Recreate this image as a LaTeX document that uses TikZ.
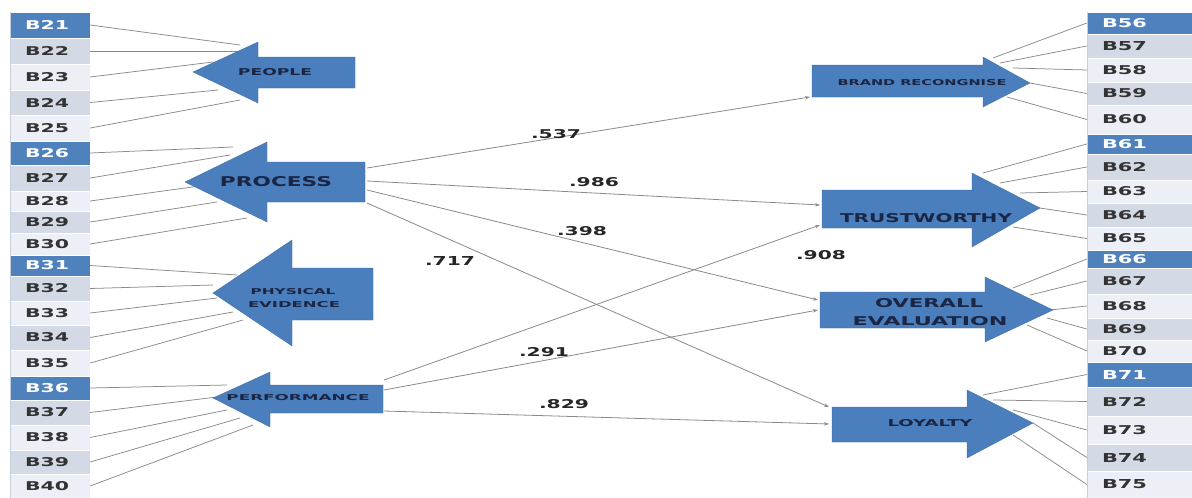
\documentclass[tikz,border=0pt]{standalone}
\usepackage{fontspec}
\setmainfont{DejaVu Sans}
\usepackage{graphicx}
\usetikzlibrary{arrows.meta}
\definecolor{hdr}{HTML}{4F81BD}
\definecolor{rowd}{HTML}{D3DAE6}
\definecolor{rowl}{HTML}{ECEFF5}
\definecolor{arr}{HTML}{4A7EBC}
\definecolor{navy}{HTML}{1B2544}
\definecolor{ln}{HTML}{8A8A8A}
\definecolor{tdark}{HTML}{333333}
\definecolor{tblborder}{HTML}{C5CEDC}
\newcommand{\fit}[3]{\resizebox{#1pt}{#2pt}{\bfseries #3}}
\begin{document}
\begin{tikzpicture}[x=1pt,y=-1pt,
  cell/.style={inner sep=0pt, draw=white, line width=0.4pt},
  feed/.style={draw=ln, line width=0.75pt},
  effect/.style={draw=ln, line width=0.8pt, -{Stealth[length=5pt,width=3.5pt]}},
  bigarrow/.style={fill=arr, draw=arr!85!black, line width=0.3pt},
  alab/.style={text=navy, inner sep=0pt},
  coef/.style={text=black!85, inner sep=0pt}]
\useasboundingbox (0,0) rectangle (1192,498);
\fill[white] (0,0) rectangle (1192,498);

% ---------- left table ----------
\foreach \n/\t/\b/\f/\tc in {21/12/38/hdr/white, 22/38/64/rowd/tdark, 23/64/90/rowl/tdark, 24/90/115/rowd/tdark, 25/115/141/rowl/tdark,
  26/141/165/hdr/white, 27/165/191/rowd/tdark, 28/191/211/rowl/tdark, 29/211/233/rowd/tdark, 30/233/255/rowl/tdark,
  31/255/276/hdr/white, 32/276/301/rowd/tdark, 33/301/325/rowl/tdark, 34/325/350/rowd/tdark, 35/350/376/rowl/tdark,
  36/376/400/hdr/white, 37/400/425/rowd/tdark, 38/425/450/rowl/tdark, 39/450/474/rowd/tdark, 40/474/498/rowl/tdark}
  {\node[cell, fill=\f, text=\tc, minimum width=80pt, minimum height={(\b-\t)*1pt}] (L\n) at (50,{(\t+\b)/2})
     {\makebox[70pt][l]{\hspace*{10pt}\fit{44}{9}{B\n}}};}
\draw[tblborder, line width=0.6pt] (10,12) -- (10,498);

% ---------- right table ----------
\foreach \n/\t/\b/\f/\tc in {56/12/34/hdr/white, 57/34/58/rowd/tdark, 58/58/82/rowl/tdark, 59/82/105/rowd/tdark, 60/105/134/rowl/tdark,
  61/134/154/hdr/white, 62/154/180/rowd/tdark, 63/180/203/rowl/tdark, 64/203/227/rowd/tdark, 65/227/250/rowl/tdark,
  66/250/268/hdr/white, 67/268/294/rowd/tdark, 68/294/318/rowl/tdark, 69/318/340/rowd/tdark, 70/340/362/rowl/tdark,
  71/362/387/hdr/white, 72/387/416/rowd/tdark, 73/416/444/rowl/tdark, 74/444/471/rowd/tdark, 75/471/498/rowl/tdark}
  {\node[cell, fill=\f, text=\tc, minimum width=105pt, minimum height={(\b-\t)*1pt}] (R\n) at (1139.5,{(\t+\b)/2})
     {\makebox[85pt][l]{\hspace*{5pt}\fit{45}{9}{B\n}}};}
\draw[tblborder, line width=0.6pt] (1087,12) -- (1087,498);

% ---------- indicator lines (left) ----------
\foreach \n/\x/\y in {21/240/45, 22/240/51, 23/213/62, 24/218/90, 25/240/100,
  26/233/147, 27/230/155, 28/207/185, 29/217/202, 30/247/218,
  31/237/275, 32/213/285, 33/217/298, 34/233/312, 35/243/320,
  36/227/385, 37/217/397, 38/227/410, 39/240/418, 40/253/425}
  {\coordinate (pL\n) at (\x,\y); \draw[feed] (L\n.east) -- (pL\n);}

% ---------- indicator lines (right) ----------
\foreach \n/\x/\y in {56/993/58, 57/1000/63, 58/1013/68, 59/1030/83, 60/1007/97,
  61/983/173, 62/1000/183, 63/1020/193, 64/1033/207, 65/1013/227,
  66/1013/288, 67/1030/295, 68/1050/310, 69/1047/318, 70/1027/325,
  71/983/395, 72/993/400, 73/1013/410, 74/1033/423, 75/1013/435}
  {\coordinate (pR\n) at (\x,\y); \draw[feed] (R\n.west) -- (pR\n);}

% ---------- big arrows ----------
\draw[bigarrow] (193,72) -- (258,42) -- (258,57) -- (355,57) -- (355,88) -- (258,88) -- (258,103) -- cycle;
\draw[bigarrow] (185,182) -- (267,142) -- (267,162) -- (365,162) -- (365,202) -- (267,202) -- (267,222) -- cycle;
\draw[bigarrow] (213,293) -- (292,240) -- (292,268) -- (373,268) -- (373,320) -- (292,320) -- (292,346) -- cycle;
\draw[bigarrow] (213,398) -- (270,372) -- (270,385) -- (383,385) -- (383,413) -- (270,413) -- (270,427) -- cycle;

\draw[bigarrow] (812,65) -- (983,65) -- (983,57) -- (1030,83) -- (983,107) -- (983,97) -- (812,97) -- cycle;
\draw[bigarrow] (822,190) -- (972,190) -- (972,173) -- (1040,208) -- (972,247) -- (972,228) -- (822,228) -- cycle;
\draw[bigarrow] (820,292) -- (985,292) -- (985,277) -- (1053,310) -- (985,342) -- (985,328) -- (820,328) -- cycle;
\draw[bigarrow] (832,407) -- (967,407) -- (967,390) -- (1033,423) -- (967,458) -- (967,442) -- (832,442) -- cycle;

% ---------- arrow labels ----------
\node[alab] (people)  at (275,72)  {\fit{74}{7}{PEOPLE}};
\node[alab] (process) at (276,182) {\fit{112}{10}{PROCESS}};
\node[alab] (physA)   at (293,292) {\fit{85}{6}{PHYSICAL}};
\node[alab] (physB)   at (294,305) {\fit{92}{6}{EVIDENCE}};
\node[alab] (perf)    at (298,398) {\fit{143}{6}{PERFORMANCE}};
\node[alab] (brand)   at (922,83)  {\fit{169}{6}{BRAND RECONGNISE}};
\node[alab] (trust)   at (926,218) {\fit{172}{9}{TRUSTWORTHY}};
\node[alab] (overA)   at (929,303) {\fit{108}{9}{OVERALL}};
\node[alab] (overB)   at (930,321) {\fit{155}{9}{EVALUATION}};
\node[alab] (loyal)   at (930,423) {\fit{85}{7}{LOYALTY}};

% ---------- structural paths ----------
\coordinate (procA) at (367,168);
\coordinate (procB) at (367,181);
\coordinate (procC) at (367,190);
\coordinate (procD) at (367,203);
\coordinate (perfA) at (384,380);
\coordinate (perfB) at (384,390);
\coordinate (perfC) at (384,411);
\coordinate (brandIn)  at (810,97);
\coordinate (trustInA) at (820,205);
\coordinate (trustInB) at (820,225);
\coordinate (overInA)  at (818,300);
\coordinate (overInB)  at (818,310);
\coordinate (loyInA)   at (829,407);
\coordinate (loyInB)   at (829,424);

\draw[effect] (procA) -- (brandIn);
\draw[effect] (procB) -- (trustInA);
\draw[effect] (procC) -- (overInA);
\draw[effect] (procD) -- (loyInA);
\draw[effect] (perfA) -- (trustInB);
\draw[effect] (perfB) -- (overInB);
\draw[effect] (perfC) -- (loyInB);

% ---------- coefficients ----------
\node[coef] (c537) at (556,134) {\fit{50}{9}{.537}};
\node[coef] (c986) at (594,182) {\fit{50}{9}{.986}};
\node[coef] (c398) at (582,231) {\fit{50}{9}{.398}};
\node[coef] (c717) at (450,261) {\fit{50}{9}{.717}};
\node[coef] (c908) at (821,255) {\fit{50}{9}{.908}};
\node[coef] (c291) at (544,352) {\fit{50}{9}{.291}};
\node[coef] (c829) at (564,404) {\fit{50}{9}{.829}};
\end{tikzpicture}
\end{document}
